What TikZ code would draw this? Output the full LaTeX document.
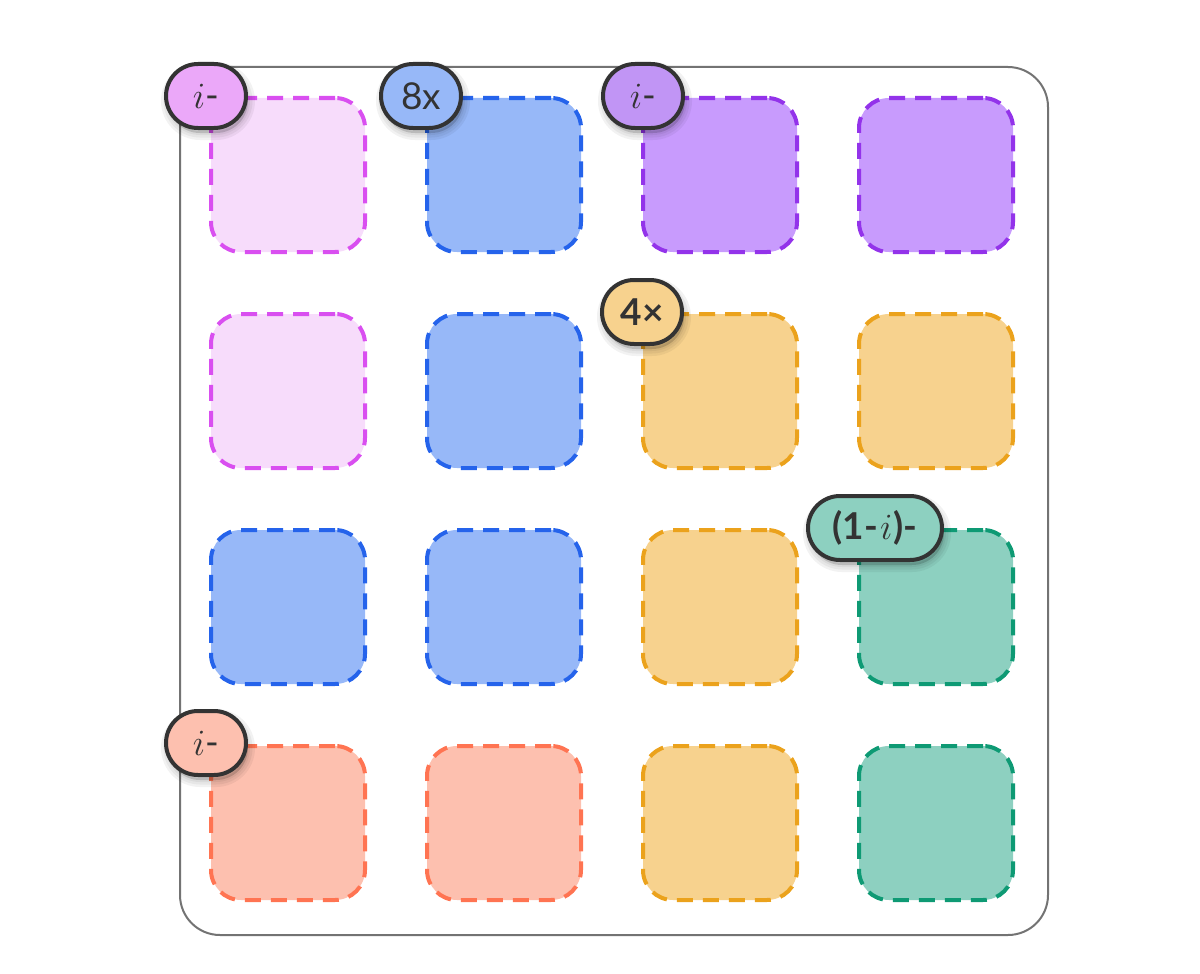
\documentclass[tikz,border=0pt]{standalone}
\usepackage{fix-cm}
\usepackage{fontspec}
\setmainfont{Lato}
\definecolor{pinkF}{HTML}{F7DCFB}\definecolor{pinkS}{HTML}{D94FF0}\definecolor{pinkL}{HTML}{EBA8F9}
\definecolor{blueF}{HTML}{97B8F8}\definecolor{blueS}{HTML}{2563EB}
\definecolor{purpF}{HTML}{C89BFD}\definecolor{purpS}{HTML}{9333EA}\definecolor{purpL}{HTML}{C195F5}
\definecolor{orF}{HTML}{F7D28E}\definecolor{orS}{HTML}{EBA21C}
\definecolor{grF}{HTML}{8DD0C0}\definecolor{grS}{HTML}{0E9A74}
\definecolor{saF}{HTML}{FDC0AF}\definecolor{saS}{HTML}{FF7452}
\definecolor{ink}{HTML}{333333}
\tikzset{
  tile/.style={draw=#1S, fill=#1F, line width=4pt, dash pattern=on 16pt off 10pt,
    rounded corners=30pt, minimum width=154pt, minimum height=154pt, inner sep=0pt},
  shadowring/.style={preaction={draw=black, draw opacity=0.05, line width=#1, fill=black, fill opacity=0.05,
    transform canvas={xshift=2pt,yshift=-5pt}}},
  badge/.style={draw=ink, fill=#1, line width=4pt, rounded corners=32pt,
    minimum height=64pt, minimum width=80pt, inner xsep=13pt, font=\fontsize{37}{40}\selectfont,
    text=ink, shadowring=14pt, shadowring=9pt, shadowring=4pt},
  frame/.style={draw=black!55, line width=2pt, rounded corners=40pt}
}
\begin{document}
\begin{tikzpicture}[x=1pt,y=-1pt]
\useasboundingbox (0,0) rectangle (1200,974);
\draw[frame] (180,67) rectangle (1048,935);
% tiles
\node[tile=pink] (t11) at (288,175) {};
\node[tile=blue] (t12) at (504,175) {};
\node[tile=purp] (t13) at (720,175) {};
\node[tile=purp] (t14) at (936,175) {};
\node[tile=pink] (t21) at (288,391) {};
\node[tile=blue] (t22) at (504,391) {};
\node[tile=or] (t23) at (720,391) {};
\node[tile=or] (t24) at (936,391) {};
\node[tile=blue] (t31) at (288,607) {};
\node[tile=blue] (t32) at (504,607) {};
\node[tile=or] (t33) at (720,607) {};
\node[tile=gr] (t34) at (936,607) {};
\node[tile=sa] (t41) at (288,823) {};
\node[tile=sa] (t42) at (504,823) {};
\node[tile=or] (t43) at (720,823) {};
\node[tile=gr] (t44) at (936,823) {};
% badges
\node[badge=pinkL] (b1) at (206,96) {$i$-};
\node[badge=blueF] (b2) at (421,96) {8x};
\node[badge=purpL] (b3) at (643,96) {$i$-};
\node[badge=orF] (b4) at (642,312) {\bfseries 4×};
\node[badge=grF, minimum width=134pt] (b5) at (875,528) {\bfseries (1-\kern2pt$i$\kern1pt)-};
\node[badge=saF] (b6) at (206,743) {$i$-};
\end{tikzpicture}
\end{document}
